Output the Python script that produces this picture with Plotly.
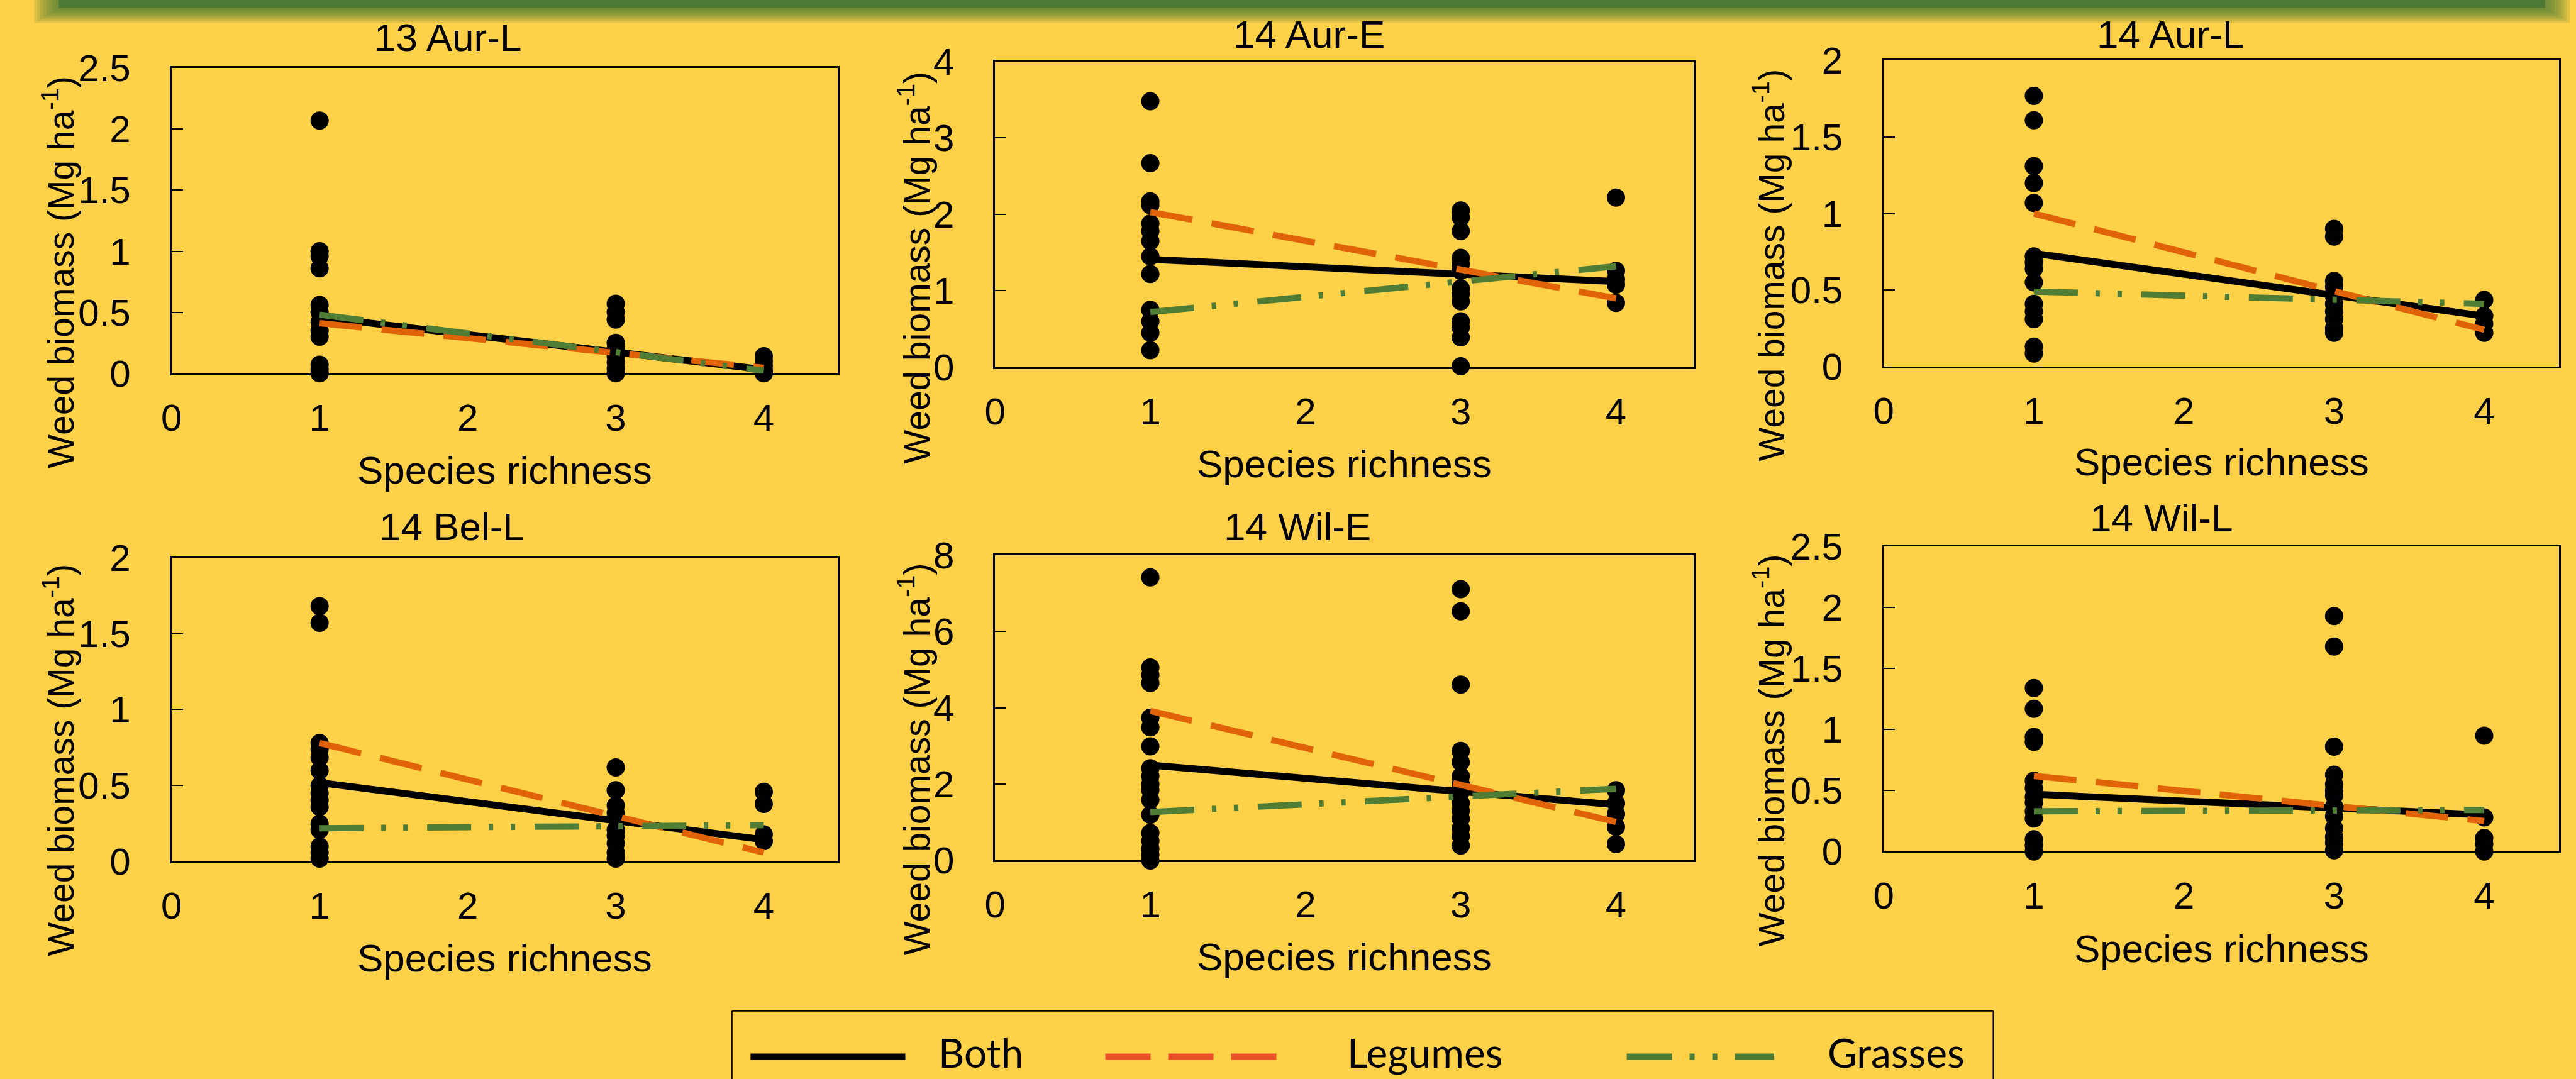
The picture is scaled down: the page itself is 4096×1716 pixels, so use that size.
import plotly.graph_objects as go

# ---------------- data ----------------
titles = ["13 Aur-L", "14 Aur-E", "14 Aur-L", "14 Bel-L", "14 Wil-E", "14 Wil-L"]
y_max = [2.5, 4, 2, 2, 8, 2.5]
y_dtick = [0.5, 1, 0.5, 0.5, 2, 0.5]
x_tickvals = [0, 1, 2, 3, 4]
richness_levels = [1, 3, 4]

aur13L_r1 = [2.07, 1.00, 0.96, 0.86, 0.56, 0.50, 0.42, 0.35, 0.30, 0.07, 0.03, 0.0]
aur13L_r3 = [0.57, 0.50, 0.44, 0.25, 0.20, 0.14, 0.09, 0.04, 0.0]
aur13L_r4 = [0.14, 0.10, 0.06, 0.02, 0.0]

aur14E_r1 = [3.48, 2.67, 2.17, 2.12, 1.88, 1.78, 1.65, 1.45, 1.22, 0.75, 0.60, 0.45, 0.22]
aur14E_r3 = [2.05, 1.96, 1.78, 1.43, 1.35, 1.26, 1.03, 0.96, 0.86, 0.60, 0.52, 0.39, 0.01]
aur14E_r4 = [2.22, 1.26, 1.15, 1.08, 0.84]

aur14L_r1 = [1.77, 1.61, 1.31, 1.20, 1.07, 0.72, 0.68, 0.64, 0.55, 0.41, 0.36, 0.31, 0.13, 0.085]
aur14L_r3 = [0.90, 0.85, 0.56, 0.52, 0.46, 0.41, 0.36, 0.31, 0.25, 0.22]
aur14L_r4 = [0.435, 0.33, 0.28, 0.22]

bel14L_r1 = [1.68, 1.57, 0.78, 0.74, 0.685, 0.60, 0.50, 0.45, 0.405, 0.36, 0.25, 0.21, 0.10, 0.06, 0.02]
bel14L_r3 = [0.62, 0.47, 0.37, 0.32, 0.29, 0.21, 0.17, 0.12, 0.06, 0.02]
bel14L_r4 = [0.46, 0.38, 0.18, 0.135]

wil14E_r1 = [7.42, 5.06, 4.86, 4.65, 3.74, 3.49, 2.99, 2.42, 2.21, 2.0, 1.85, 1.59, 1.2, 0.72, 0.51, 0.31, 0.15, 0.0]
wil14E_r3 = [7.11, 6.53, 4.61, 2.87, 2.58, 2.21, 2.0, 1.8, 1.5, 1.3, 1.09, 0.84, 0.64, 0.39]
wil14E_r4 = [1.84, 1.5, 1.22, 0.88, 0.43]

wil14L_r1 = [1.34, 1.17, 0.94, 0.90, 0.58, 0.52, 0.45, 0.40, 0.33, 0.27, 0.10, 0.05, 0.0]
wil14L_r3 = [1.93, 1.68, 0.86, 0.63, 0.55, 0.50, 0.46, 0.37, 0.29, 0.19, 0.12, 0.07, 0.01]
wil14L_r4 = [0.95, 0.28, 0.11, 0.06, 0.0]

panel_points = [
    [aur13L_r1, aur13L_r3, aur13L_r4],
    [aur14E_r1, aur14E_r3, aur14E_r4],
    [aur14L_r1, aur14L_r3, aur14L_r4],
    [bel14L_r1, bel14L_r3, bel14L_r4],
    [wil14E_r1, wil14E_r3, wil14E_r4],
    [wil14L_r1, wil14L_r3, wil14L_r4],
]

# fitted lines (value at richness 1 and at richness 4)
line_x = [1, 4]
both_at1 = [0.46, 1.41, 0.74, 0.52, 2.50, 0.47]
both_at4 = [0.03, 1.12, 0.33, 0.145, 1.46, 0.30]
leg_at1 = [0.41, 2.03, 1.00, 0.78, 3.92, 0.62]
leg_at4 = [0.045, 0.90, 0.24, 0.06, 1.01, 0.25]
gra_at1 = [0.48, 0.72, 0.49, 0.22, 1.27, 0.33]
gra_at4 = [0.02, 1.32, 0.41, 0.24, 1.88, 0.34]

legend_names = ["Both", "Legumes", "Grasses"]

# ---------------- styling / layout ----------------
RW, RH = 4160, 1743
BG = "#FFD148"
GREEN_BANNER = "#4E7A35"
ORANGE = "#E06308"
ORANGE_LEG = "#E8502A"
GREEN = "#4F7D36"
FONT = "Liberation Sans, Arial, sans-serif"


def px(x):
    return x / RW


def py(y):
    return 1 - y / RH


# plot boxes in reference pixels: left, right, top, bottom
boxes = [
    (277, 1353, 110, 603),
    (1607, 2735, 99.5, 593),
    (3042, 4133, 98, 592),
    (277, 1353, 900.5, 1392),
    (1607, 2735, 897, 1390),
    (3042, 4133, 883, 1375.5),
]
title_pos = [(723, 60), (2114, 55), (3505, 55), (730, 851), (2095, 851), (3490, 836)]
ytitle_pos = [(95, 440), (1477, 432), (2857, 428), (95, 1228), (1477, 1226), (2857, 1212)]
xtitle_y = [759, 749, 746, 1547, 1545, 1532]

fig = go.Figure()
annotations = []
shapes = []

for i in range(6):
    n = i + 1
    xa = "x" if n == 1 else f"x{n}"
    ya = "y" if n == 1 else f"y{n}"
    # points
    xs, ys = [], []
    for lvl, vals in zip(richness_levels, panel_points[i]):
        xs += [lvl] * len(vals)
        ys += vals
    fig.add_trace(go.Scatter(x=xs, y=ys, mode="markers", xaxis=xa, yaxis=ya,
                             marker=dict(color="black", size=29, line=dict(width=0)),
                             cliponaxis=False, showlegend=False))
    fig.add_trace(go.Scatter(x=line_x, y=[both_at1[i], both_at4[i]], mode="lines", xaxis=xa, yaxis=ya,
                             line=dict(color="black", width=11), showlegend=False))
    fig.add_trace(go.Scatter(x=line_x, y=[leg_at1[i], leg_at4[i]], mode="lines", xaxis=xa, yaxis=ya,
                             line=dict(color=ORANGE, width=10, dash="68px,31px"), showlegend=False))
    fig.add_trace(go.Scatter(x=line_x, y=[gra_at1[i], gra_at4[i]], mode="lines", xaxis=xa, yaxis=ya,
                             line=dict(color=GREEN, width=10, dash="70px,28px,7px,28px,7px,31px"),
                             showlegend=False))

    l, r, t, b = boxes[i]
    xkey = "xaxis" if n == 1 else f"xaxis{n}"
    ykey = "yaxis" if n == 1 else f"yaxis{n}"
    fig.layout[xkey] = dict(domain=[px(l), px(r)], range=[0, 4.5], tickvals=x_tickvals,
                            showgrid=False, zeroline=False, showline=True, linecolor="black",
                            linewidth=3, mirror=True, ticks="", anchor=ya, automargin=False,
                            tickfont=dict(family=FONT, size=60, color="black"),
                            ticklabelstandoff=16)
    fig.layout[ykey] = dict(domain=[py(b), py(t)], range=[0, y_max[i]], dtick=y_dtick[i], tick0=0,
                            showgrid=False, zeroline=False, showline=True, linecolor="black",
                            linewidth=3, mirror=True, ticks="inside", ticklen=18, tickwidth=2,
                            tickcolor="black", anchor=xa, automargin=False,
                            tickfont=dict(family=FONT, size=60, color="black"),
                            ticklabelstandoff=50)
    tx, ty = title_pos[i]
    annotations.append(dict(text=titles[i], x=px(tx), y=py(ty), xref="paper", yref="paper",
                            showarrow=False, xanchor="center", yanchor="middle",
                            font=dict(family=FONT, size=62, color="black")))
    yx, yy = ytitle_pos[i]
    annotations.append(dict(text="Weed biomass (Mg ha<sup>-1</sup>)", x=px(yx), y=py(yy),
                            xref="paper", yref="paper", showarrow=False, textangle=-90,
                            xanchor="center", yanchor="middle",
                            font=dict(family=FONT, size=57, color="black")))
    annotations.append(dict(text="Species richness", x=px((l + r) / 2), y=py(xtitle_y[i]),
                            xref="paper", yref="paper", showarrow=False,
                            xanchor="center", yanchor="middle",
                            font=dict(family=FONT, size=62, color="black")))

# ---- top banner with soft shadow ----
for k in range(8, 0, -1):
    shapes.append(dict(type="rect", xref="paper", yref="paper", layer="below",
                       x0=px(95 - 5 * k), x1=px(4110 + 5 * k), y0=py(13 + 3 * k), y1=1.01,
                       fillcolor=GREEN_BANNER, opacity=0.17, line=dict(width=0)))
shapes.append(dict(type="rect", xref="paper", yref="paper", layer="below",
                   x0=px(95), x1=px(4110), y0=py(13), y1=1.01,
                   fillcolor=GREEN_BANNER, line=dict(width=0)))

# ---- legend box (bottom cut off by figure edge) ----
lg_l, lg_r, lg_t = 1182, 3219, 1633
for (x0, y0, x1, y1) in [(lg_l, lg_t, lg_r, lg_t), (lg_l, lg_t, lg_l, 1760), (lg_r, lg_t, lg_r, 1760)]:
    shapes.append(dict(type="line", xref="paper", yref="paper", x0=px(x0), y0=py(y0),
                       x1=px(x1), y1=py(y1), line=dict(color="black", width=2)))
leg_y = 1707
legend_samples = [
    (1212, 1462, "black", "solid", 1513),
    (1785, 2063, ORANGE_LEG, "72px,28px", 2173),
    (2627, 2865, GREEN, "72px,28px,8px,28px,8px,28px", 2949),
]
for (x0, x1, col, dash, tx), name in zip(legend_samples, legend_names):
    shapes.append(dict(type="line", xref="paper", yref="paper", x0=px(x0), y0=py(leg_y),
                       x1=px(x1), y1=py(leg_y), line=dict(color=col, width=10, dash=dash)))
    annotations.append(dict(text=name, x=px(tx), y=py(1700), xref="paper", yref="paper",
                            showarrow=False, xanchor="left", yanchor="middle",
                            font=dict(family="Lato, Carlito, sans-serif", size=64, color="black")))

fig.update_layout(template="none", width=4096, height=1716,
                  margin=dict(l=0, r=0, t=0, b=0, pad=0, autoexpand=False),
                  paper_bgcolor=BG, plot_bgcolor=BG, showlegend=False,
                  annotations=annotations, shapes=shapes)

fig.write_html("out.html", config={"displayModeBar": False},
               post_script="document.body.style.margin='0';document.body.style.overflow='hidden';")
